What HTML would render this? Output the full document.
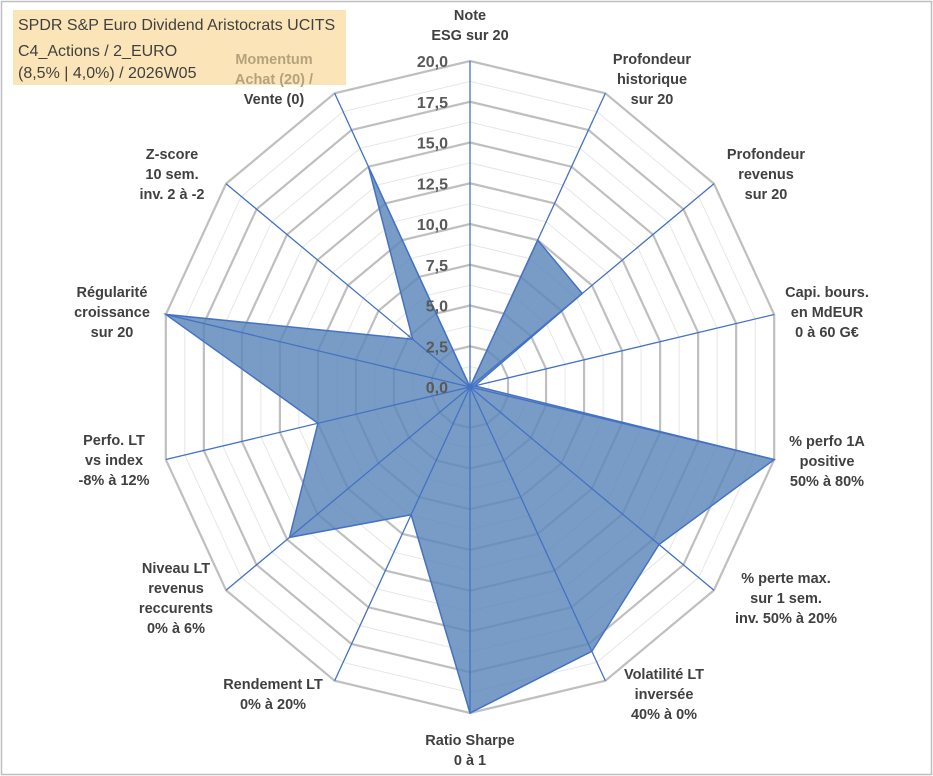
<!DOCTYPE html>
<html><head><meta charset="utf-8"><style>
html,body{margin:0;padding:0;background:#fff}
svg{display:block}
text{font-family:"Liberation Sans",sans-serif}
</style></head><body>
<svg id="chart" width="933" height="776" viewBox="0 0 933 776" xmlns="http://www.w3.org/2000/svg">
<rect x="1.5" y="1.5" width="930" height="773" fill="#fff" stroke="#bfbfbf" stroke-width="1.5"/>
<rect x="13" y="10" width="333" height="75" fill="#fbe5b8"/>
<g font-size="16" fill="#404040">
<text x="18" y="30">SPDR S&amp;P Euro Dividend Aristocrats UCITS</text>
<text x="18" y="56">C4_Actions / 2_EURO</text>
<text x="18" y="78">(8,5% | 4,0%) / 2026W05</text>
</g>
<g id="grid"></g>
<g id="series"></g>
<g id="ticks"></g>
<g id="labels"></g>
</svg>
<script>
const categories = [
 ["Note","ESG sur 20"],
 ["Profondeur","historique","sur 20"],
 ["Profondeur","revenus","sur 20"],
 ["Capi. bours.","en MdEUR","0 à 60 G€"],
 ["% perfo 1A","positive","50% à 80%"],
 ["% perte max.","sur 1 sem.","inv. 50% à 20%"],
 ["Volatilité LT","inversée","40% à 0%"],
 ["Ratio Sharpe","0 à 1"],
 ["Rendement LT","0% à 20%"],
 ["Niveau LT","revenus","reccurents","0% à 6%"],
 ["Perfo. LT","vs index","-8% à 12%"],
 ["Régularité","croissance","sur 20"],
 ["Z-score","10 sem.","inv. 2 à -2"],
 ["Momentum","Achat (20) /","Vente (0)"]
];
const values = [0, 10, 9.2, 0.3, 20, 15.5, 18, 20, 8.7, 14.8, 10, 20, 4.7, 15];
const tickValues = [0, 2.5, 5, 7.5, 10, 12.5, 15, 17.5, 20];
const tickLabels = ["0,0","2,5","5,0","7,5","10,0","12,5","15,0","17,5","20,0"];
const labelPos = [[470,20],[652,64],[766,159],[827,297],[827,446],[786,583],[664,679],[470,745],[273,689],[176,573],[114,445],[112,297],[172,159],[274,64]];

const NS="http://www.w3.org/2000/svg";
const cx=470, cy=387, rx=312, ry=326, vmax=20, N=categories.length;
function pt(i,v){const a=i*2*Math.PI/N;return [cx+Math.sin(a)*rx*v/vmax, cy-Math.cos(a)*ry*v/vmax];}
function mk(tag,attrs,parent){const e=document.createElementNS(NS,tag);for(const k in attrs)e.setAttribute(k,attrs[k]);parent.appendChild(e);return e;}
const grid=document.getElementById('grid');
for(let k=0;k<tickValues.length-1;k++){
 const v=(tickValues[k]+tickValues[k+1])/2;
 const p=mk('polygon',{points:categories.map((c,i)=>pt(i,v).join(',')).join(' '),fill:'none',stroke:'#e6e6e6','stroke-width':1},grid);
 
 
}
tickValues.forEach(v=>{
 if(v===0)return;
 const p=mk('polygon',{points:categories.map((c,i)=>pt(i,v).join(',')).join(' '),fill:'none',stroke:'#bfbfbf','stroke-width':2.2},grid);
 
 
});
const ser=document.getElementById('series');
const poly=mk('polygon',{points:values.map((v,i)=>pt(i,v).join(',')).join(' '),fill:'#5a86b9','fill-opacity':0.82,stroke:'#4472c4','stroke-width':1.5,'stroke-linejoin':'miter'},ser);


categories.forEach((c,i)=>{
 const e=pt(i,vmax);
 const l=mk('line',{x1:cx,y1:cy,x2:e[0],y2:e[1],stroke:'#4472c4','stroke-width':1.3},ser);
 
 
});
const tk=document.getElementById('ticks');
tickValues.forEach((v,k)=>{
 const t=mk('text',{x:448,y:cy-ry*v/vmax+6,'text-anchor':'end','font-size':16,'font-weight':'bold',fill:'#595959'},tk);
 t.textContent=tickLabels[k];
 
 
});
const lg=document.getElementById('labels');
categories.forEach((lines,i)=>{
 const t=mk('text',{x:labelPos[i][0],y:labelPos[i][1],'text-anchor':'middle','font-size':14.5,'font-weight':'bold',fill:'#404040'},lg);
 
 
 lines.forEach((s,j)=>{
  const ts=mk('tspan',{x:labelPos[i][0],dy:j?20:0},t);
  if(i===13&&j<2)ts.setAttribute('fill','#b5a27c');
  ts.textContent=s;
 });
});
</script>
</body></html>
